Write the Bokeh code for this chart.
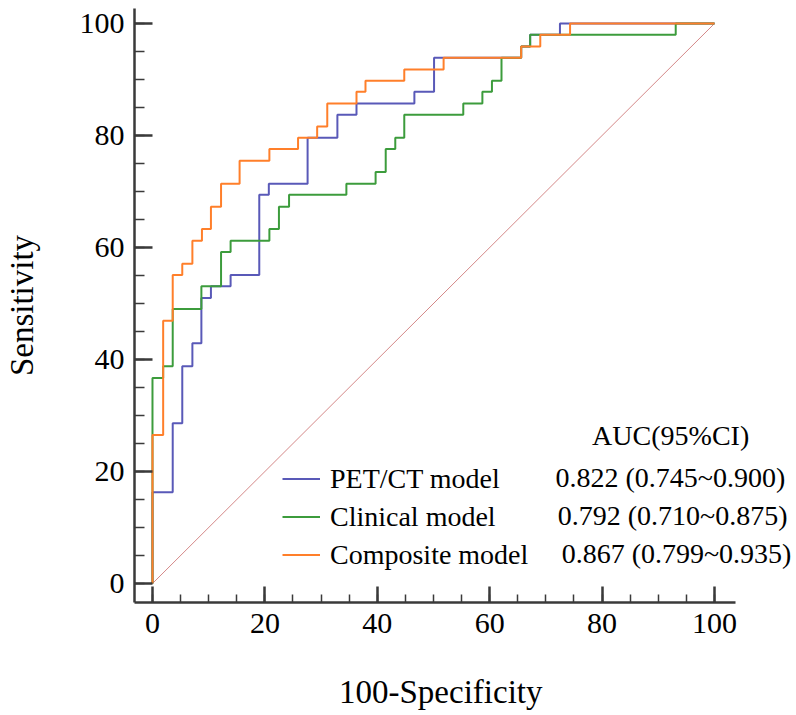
from bokeh.plotting import figure
from bokeh.models import FixedTicker, Legend, LegendItem, Label, Range1d
from bokeh.embed import file_html
from bokeh.resources import INLINE

# ---- data ----
pet_fpr = [0, 0, 3.6, 3.6, 5.3, 5.3, 7.1, 7.1, 8.7, 8.7, 10.4, 10.4, 13.9, 13.9, 19.0, 19.0,
           20.7, 20.7, 27.6, 27.6, 32.9, 32.9, 36.3, 36.3, 46.6, 46.6, 50.1, 50.1, 65.6, 65.6,
           67.2, 67.2, 72.5, 72.5, 100]
pet_tpr = [0, 16.3, 16.3, 28.6, 28.6, 38.8, 38.8, 42.9, 42.9, 51.0, 51.0, 53.1, 53.1, 55.1, 55.1, 69.4,
           69.4, 71.4, 71.4, 79.6, 79.6, 83.7, 83.7, 85.7, 85.7, 87.8, 87.8, 93.9, 93.9, 95.9,
           95.9, 98.0, 98.0, 100, 100]

cli_fpr = [0, 0, 1.9, 1.9, 3.6, 3.6, 8.7, 8.7, 12.2, 12.2, 13.9, 13.9, 20.8, 20.8, 22.5, 22.5,
           24.3, 24.3, 34.5, 34.5, 39.7, 39.7, 41.5, 41.5, 43.2, 43.2, 44.8, 44.8, 55.3, 55.3,
           58.7, 58.7, 60.4, 60.4, 62.1, 62.1, 65.6, 65.6, 67.2, 67.2, 93.1, 93.1, 100]
cli_tpr = [0, 36.7, 36.7, 38.8, 38.8, 49.0, 49.0, 53.1, 53.1, 59.2, 59.2, 61.2, 61.2, 63.3, 63.3, 67.3,
           67.3, 69.4, 69.4, 71.4, 71.4, 73.5, 73.5, 77.6, 77.6, 79.6, 79.6, 83.7, 83.7, 85.7,
           85.7, 87.8, 87.8, 89.8, 89.8, 93.9, 93.9, 95.9, 95.9, 98.0, 98.0, 100, 100]

com_fpr = [0, 0, 1.9, 1.9, 3.6, 3.6, 5.3, 5.3, 7.1, 7.1, 8.8, 8.8, 10.4, 10.4, 12.2, 12.2,
           15.5, 15.5, 20.8, 20.8, 25.9, 25.9, 29.3, 29.3, 31.1, 31.1, 36.3, 36.3, 37.9, 37.9,
           44.8, 44.8, 51.8, 51.8, 65.6, 65.6, 69.0, 69.0, 74.3, 74.3, 100]
com_tpr = [0, 26.5, 26.5, 46.9, 46.9, 55.1, 55.1, 57.1, 57.1, 61.2, 61.2, 63.3, 63.3, 67.3, 67.3, 71.4,
           71.4, 75.5, 75.5, 77.6, 77.6, 79.6, 79.6, 81.6, 81.6, 85.7, 85.7, 87.8, 87.8, 89.8,
           89.8, 91.8, 91.8, 93.9, 93.9, 95.9, 95.9, 98.0, 98.0, 100, 100]

diag_x = [0, 100]
diag_y = [0, 100]

model_names = ["PET/CT model", "Clinical model", "Composite model"]
auc_texts = ["0.822 (0.745~0.900)", "0.792 (0.710~0.875)", "0.867 (0.799~0.935)"]
auc_header = "AUC(95%CI)"
x_title = "100-Specificity"
y_title = "Sensitivity"
major_ticks = [0, 20, 40, 60, 80, 100]
minor_ticks = list(range(0, 101, 5))

colors = ["#5959b8", "#3c9c3c", "#ff7f2a"]
FONT = "Liberation Serif"

# axis extents (data units); the plotting frame extends to the canvas right edge
X_LO, X_HI = -3.2, 103.74
Y_LO, Y_HI = -3.39, 102.68

p = figure(width=796, height=715, output_backend="svg", toolbar_location=None, title=None,
           x_range=Range1d(X_LO, 114.59), y_range=Range1d(Y_LO, Y_HI),
           min_border_left=134, min_border_right=0, min_border_top=8, min_border_bottom=113)
p.outline_line_color = None
p.grid.visible = False
p.background_fill_color = "white"
p.border_fill_color = "white"

p.line(diag_x, diag_y, line_color="#d48888", line_width=1)
r_pet = p.line(pet_fpr, pet_tpr, line_color=colors[0], line_width=2)
r_cli = p.line(cli_fpr, cli_tpr, line_color=colors[1], line_width=2)
r_com = p.line(com_fpr, com_tpr, line_color=colors[2], line_width=2)

for ax in (p.xaxis[0], p.yaxis[0]):
    ax.ticker = FixedTicker(ticks=major_ticks, minor_ticks=minor_ticks)
    ax.axis_line_color = "#3a3a3a"
    ax.axis_line_width = 2.5
    ax.major_tick_line_color = "#3a3a3a"
    ax.major_tick_line_width = 2.5
    ax.minor_tick_line_color = "#3a3a3a"
    ax.minor_tick_line_width = 1.5
    ax.major_tick_out = 0
    ax.minor_tick_out = 0
    ax.major_label_text_font = FONT
    ax.major_label_text_font_size = "30px"
    ax.major_label_text_color = "black"
    ax.axis_label_text_font = FONT
    ax.axis_label_text_font_size = "33px"
    ax.axis_label_text_font_style = "normal"
    ax.axis_label_text_color = "black"

p.xaxis[0].bounds = (X_LO, X_HI)
p.yaxis[0].bounds = (Y_LO, Y_HI)
p.xaxis[0].major_tick_in = 16
p.xaxis[0].minor_tick_in = 8
p.yaxis[0].major_tick_in = 18
p.yaxis[0].minor_tick_in = 10
p.xaxis[0].major_label_standoff = 11
p.yaxis[0].major_label_standoff = 10
# the frame is wider than the drawn axis (room for the AUC column), so the centred
# label is padded with trailing no-break spaces to sit under the middle of the axis
p.xaxis[0].axis_label = x_title + "\u00a0" * 6
p.yaxis[0].axis_label = y_title
p.xaxis[0].axis_label_standoff = 38
p.yaxis[0].axis_label_standoff = 37

legend = Legend(items=[LegendItem(label=model_names[0], renderers=[r_pet]),
                       LegendItem(label=model_names[1], renderers=[r_cli]),
                       LegendItem(label=model_names[2], renderers=[r_com])],
                location=(148, 30), padding=0, margin=0, border_line_color=None,
                background_fill_alpha=0, glyph_width=38, glyph_height=35, label_height=35,
                spacing=3, label_standoff=10, label_text_font=FONT, label_text_font_size="28px",
                label_text_color="black")
p.add_layout(legend)

p.add_layout(Label(x=92.2, y=26.4, text=auc_header, text_align="center", text_baseline="middle",
                   text_font=FONT, text_font_size="28px", text_color="black"))
row_y = [18.9, 12.1, 5.4]
row_x = [71.7, 72.1, 72.8]
for t, xx, yy in zip(auc_texts, row_x, row_y):
    p.add_layout(Label(x=xx, y=yy, text=t, text_align="left", text_baseline="middle",
                       text_font=FONT, text_font_size="28px", text_color="black"))

open("out.html", "w").write(file_html(p, INLINE))
